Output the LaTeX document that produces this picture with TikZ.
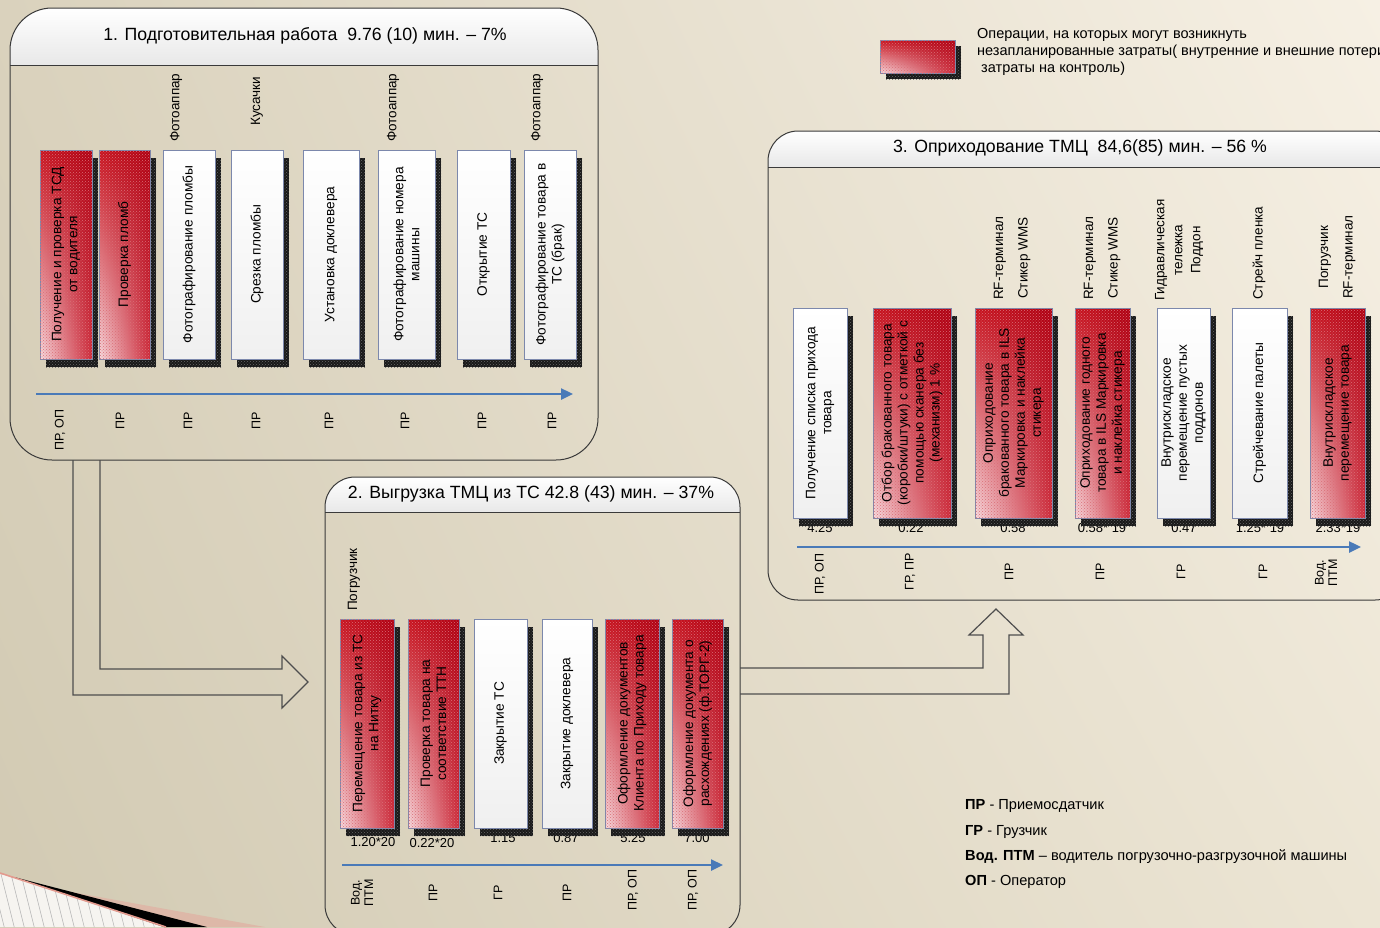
\documentclass[tikz,border=0pt]{standalone}
\usepackage{fontspec}
\setmainfont{Liberation Sans}
\usetikzlibrary{patterns,arrows.meta,calc,shadings}

\definecolor{bgUL}{HTML}{DAD2BD}
\definecolor{bgUR}{HTML}{F6F0E4}
\definecolor{bgLL}{HTML}{D2CAB3}
\definecolor{bgLR}{HTML}{ECE5D4}
\definecolor{opred}{HTML}{C20F1C}
\definecolor{redUL}{HTML}{C8121E}
\definecolor{redUR}{HTML}{AE0012}
\definecolor{redLL}{HTML}{F7DCE0}
\definecolor{redLR}{HTML}{CC2838}
\definecolor{oppink}{HTML}{F4CDD2}
\definecolor{boxedge}{HTML}{7C88AC}
\definecolor{axisblue}{HTML}{4A7AB8}
\definecolor{frameline}{HTML}{3A3A3A}
\definecolor{hdrgray}{HTML}{E8E8E8}
\definecolor{cornerpink}{HTML}{E39A8E}
\definecolor{cornerlight}{HTML}{DDB8A8}

\tikzset{
  boxfont/.style={font=\fontsize{13.7}{16}\selectfont},
  redop/.style={draw=boxedge, line width=0.8pt,
    upper left=redUL, upper right=redUR, lower left=redLL, lower right=redLR,
    postaction={pattern=crosshatch dots, pattern color=white!40!opred},
    text=black, boxfont, align=center, inner sep=1pt},
  whiteop/.style={draw=boxedge, line width=0.8pt, top color=white, bottom color=white!94!black,
    text=black, boxfont, align=center, inner sep=1pt},
  shadowbox/.style={fill=black!90, postaction={pattern=crosshatch dots, pattern color=white!40!black}},
  framepath/.style={draw=frameline, line width=1pt},
  blockarrow/.style={draw=frameline!90, line width=1.2pt, line join=miter},
  axisarrow/.style={draw=axisblue, line width=2.4pt, -{Triangle[length=12pt,width=11pt]}},
  tooltext/.style={rotate=90, anchor=west, align=center, font=\fontsize{13.5}{16}\selectfont, inner sep=0pt},
  widetool/.style={tooltext, font=\fontsize{13.5}{24.5}\selectfont},
  roletext/.style={rotate=90, align=center, font=\fontsize{12.5}{13.5}\selectfont, inner sep=0pt},
  numtext/.style={font=\fontsize{13}{14}\selectfont, inner sep=0pt},
  titletext/.style={font=\fontsize{17.7}{20}\selectfont, inner sep=0pt},
  legendtext/.style={anchor=west, font=\fontsize{14.6}{16}\selectfont, inner sep=0pt},
  hatchline/.style={draw=black!28, line width=0.6pt},
}

% operation box: name, style, x-left, x-right, y-top, y-bottom, text
\newcommand\opbox[7]{%
  \fill[shadowbox] ({#3+6},{#5+8}) rectangle ({#4+6},{#6+8});
  \node[#2, rotate=90, minimum width={(#6)-(#5)}, minimum height={(#4)-(#3)}]
    (#1) at ({(#3+#4)/2},{(#5+#6)/2}) {#7};
}

% section frame: x-left, y-top, x-right, y-bottom, header bottom, corner radius
\newcommand\sectionframe[6]{%
  \begin{scope}
    \clip[rounded corners=#6] (#1,#2) rectangle (#3,#4);
    \shade[top color=white, bottom color=hdrgray] (#1,#2) rectangle (#3,#5);
  \end{scope}
  \draw[framepath, rounded corners=#6] (#1,#2) rectangle (#3,#4);
  \draw[framepath] (#1,#5) -- (#3,#5);
}

\begin{document}
\begin{tikzpicture}[x=1pt, y=-1pt]
\useasboundingbox (0,0) rectangle (1380,927);

% background
\shade[upper left=bgUL, upper right=bgUR, lower left=bgLL, lower right=bgLR] (0,0) rectangle (1380,927);

% page-curl ornament in the lower left corner
\fill[white!80!bgLL] (0,873) -- (166,927) -- (0,927) -- cycle;
\begin{scope}
  \clip (0,873) -- (166,927) -- (0,927) -- cycle;
  \foreach \i in {0,...,20} {
    \draw[hatchline] ({\i*10-20},870) -- ({\i*10-5},930);
  }
\end{scope}
\fill[cornerlight] (55,889) -- (265,927) -- (200,927) -- cycle;
\fill[black] (14,877) -- (207,927) -- (164,927) -- cycle;
\draw[cornerpink, line width=1.6pt] (0,873) -- (166,927);

% ---------- frames ----------
\sectionframe{10}{8}{598}{460}{65}{42}
\sectionframe{325}{477}{740}{935}{512}{30}
\sectionframe{768}{131}{1405}{600}{167}{30}

\node[titletext] (t1) at (305,36) {1. Подготовительная работа\ \ 9.76 (10) мин. – 7\%};
\node[titletext] (t2) at (531,494) {2. Выгрузка ТМЦ из ТС 42.8 (43) мин. – 37\%};
\node[titletext] (t3) at (1080,148) {3. Оприходование ТМЦ\ \ 84,6(85) мин. – 56 \%};

% ---------- section 1: preparation ----------
\node[tooltext] (u3) at (176,142) {Фотоаппар};
\node[tooltext] (u4) at (257,126) {Кусачки};
\node[tooltext] (u6) at (393,142) {Фотоаппар};
\node[tooltext] (u8) at (537,142) {Фотоаппар};

\opbox{a1}{redop}{40}{92}{150}{359}{Получение и проверка ТСД\\от водителя}
\opbox{a2}{redop}{99}{150}{150}{359}{Проверка пломб}
\opbox{a3}{whiteop}{163}{215}{150}{359}{Фотографирование пломбы}
\opbox{a4}{whiteop}{231}{283}{150}{359}{Срезка пломбы}
\opbox{a5}{whiteop}{303}{359}{150}{359}{Установка доклевера}
\opbox{a6}{whiteop}{378}{435}{150}{359}{Фотографирование номера\\машины}
\opbox{a7}{whiteop}{457}{510}{150}{359}{Открытие ТС}
\opbox{a8}{whiteop}{524}{576}{150}{359}{Фотографирование товара в\\ТС (брак)}

\coordinate (ax1a) at (36,394);
\coordinate (ax1b) at (573,394);
\draw[axisarrow] (ax1a) -- (ax1b);

\node[roletext] (r1) at (60,430) {ПР, ОП};
\node[roletext] (r2) at (120,421) {ПР};
\node[roletext] (r3) at (188,421) {ПР};
\node[roletext] (r4) at (256,421) {ПР};
\node[roletext] (r5) at (329,421) {ПР};
\node[roletext] (r6) at (405,421) {ПР};
\node[roletext] (r7) at (482,421) {ПР};
\node[roletext] (r8) at (552,421) {ПР};

% ---------- section 2: unloading ----------
\node[tooltext] (v1) at (354,611) {Погрузчик};

\node[numtext] (n21) at (373,842) {1.20*20};
\node[numtext] (n22) at (432,843) {0.22*20};
\node[numtext] (n23) at (503,838) {1.15};
\node[numtext] (n24) at (566,838) {0.87};
\node[numtext] (n25) at (633,838) {5.25};
\node[numtext] (n26) at (697,838) {7.00};

\opbox{b1}{redop}{340}{394}{619}{828}{Перемещение товара из ТС\\на Нитку}
\opbox{b2}{redop}{408}{459}{619}{828}{Проверка товара на\\соответствие ТТН}
\opbox{b3}{whiteop}{474}{527}{619}{828}{Закрытие ТС}
\opbox{b4}{whiteop}{542}{592}{619}{828}{Закрытие доклевера}
\opbox{b5}{redop}{605}{659}{619}{828}{Оформление документов\\Клиента по Приходу товара}
\opbox{b6}{redop}{672}{723}{619}{828}{Оформление документа о\\расхождениях (ф.ТОРГ-2)}

\coordinate (ax2a) at (342,865);
\coordinate (ax2b) at (723,865);
\draw[axisarrow] (ax2a) -- (ax2b);

\node[roletext] (q1) at (362,893) {Вод.\\ПТМ};
\node[roletext] (q2) at (433,893) {ПР};
\node[roletext] (q3) at (498,893) {ГР};
\node[roletext] (q4) at (567,893) {ПР};
\node[roletext] (q5) at (633,890) {ПР, ОП};
\node[roletext] (q6) at (693,890) {ПР, ОП};

% ---------- section 3: receipt ----------
\node[widetool] (w3) at (1012,300) {RF-терминал\\Стикер WMS};
\node[widetool] (w4) at (1102,300) {RF-терминал\\Стикер WMS};
\node[tooltext, font=\fontsize{13.5}{18}\selectfont] (w5) at (1179,301) {Гидравлическая\\тележка\\Поддон};
\node[tooltext] (w6) at (1259,300) {Стрейч пленка};
\node[widetool] (w7) at (1337,299) {Погрузчик\\RF-терминал};

\node[numtext] (n31) at (820,528) {4.25};
\node[numtext] (n32) at (911,528) {0.22};
\node[numtext] (n33) at (1013,528) {0.58};
\node[numtext] (n34) at (1102,528) {0.58* 19};
\node[numtext] (n35) at (1184,528) {0.47};
\node[numtext] (n36) at (1260,528) {1.25* 19};
\node[numtext] (n37) at (1338,528) {2.33*19};

\opbox{c1}{whiteop}{793}{847}{308}{518}{Получение списка прихода\\товара}
\opbox{c2}{redop}{873}{951}{308}{518}{Отбор бракованного товара\\(коробки/штуки) с отметкой с\\помощью сканера без\\(механизм) 1 \%}
\opbox{c3}{redop}{975}{1052}{308}{518}{Оприходование\\бракованного товара в ILS\\Маркировка и наклейка\\стикера}
\opbox{c4}{redop}{1075}{1130}{308}{518}{Оприходование годного\\товара в ILS Маркировка\\и наклейка стикера}
\opbox{c5}{whiteop}{1157}{1210}{308}{518}{Внутрискладское\\перемещение пустых\\поддонов}
\opbox{c6}{whiteop}{1232}{1287}{308}{518}{Стрейчевание палеты}
\opbox{c7}{redop}{1310}{1365}{308}{518}{Внутрискладское\\перемещение товара}

\coordinate (ax3a) at (797,547);
\coordinate (ax3b) at (1361,547);
\draw[axisarrow] (ax3a) -- (ax3b);

\node[roletext] (p1) at (820,574) {ПР, ОП};
\node[roletext] (p2) at (910,572) {ГР, ПР};
\node[roletext] (p3) at (1009,572) {ПР};
\node[roletext] (p4) at (1100,572) {ПР};
\node[roletext] (p5) at (1181,572) {ГР};
\node[roletext] (p6) at (1263,572) {ГР};
\node[roletext] (p7) at (1326,573) {Вод.\\ПТМ};

% ---------- block arrows between the stages ----------
\coordinate (f1a) at (73,460);
\coordinate (f1b) at (100,460);
\draw[blockarrow] (f1a) |- (282,695) -- (282,708) -- (308,682) -- (282,656) -- (282,669) -| (f1b);

\coordinate (f2a) at (740,694);
\coordinate (f2b) at (740,668);
\draw[blockarrow] (f2a) -| (1009,635) -- (1023,635) -- (996,609) -- (969,635) -- (983,635) |- (f2b);

% ---------- legends ----------
\fill[shadowbox] (886,46) rectangle (961,79);
\node[draw=boxedge, line width=0.8pt,
  upper left=redUL, upper right=redUR, lower left=redLL, lower right=redLR,
  postaction={pattern=crosshatch dots, pattern color=white!40!opred},
  minimum width=75, minimum height=33, inner sep=0pt] (key) at (917.5,56.5) {};
\node[anchor=north west, align=left, font=\fontsize{14.5}{17}\selectfont, inner sep=0pt] (keytext) at (977,28)
  {Операции, на которых могут возникнуть\\незапланированные затраты( внутренние и внешние потери,\\\ затраты на контроль)};

\node[legendtext] (lg1) at (965,806) {\textbf{ПР} - Приемосдатчик};
\node[legendtext] (lg2) at (965,832) {\textbf{ГР} - Грузчик};
\node[legendtext] (lg3) at (965,857) {\textbf{Вод. ПТМ} – водитель погрузочно-разгрузочной машины};
\node[legendtext] (lg4) at (965,882) {\textbf{ОП} - Оператор};

\end{tikzpicture}
\end{document}
